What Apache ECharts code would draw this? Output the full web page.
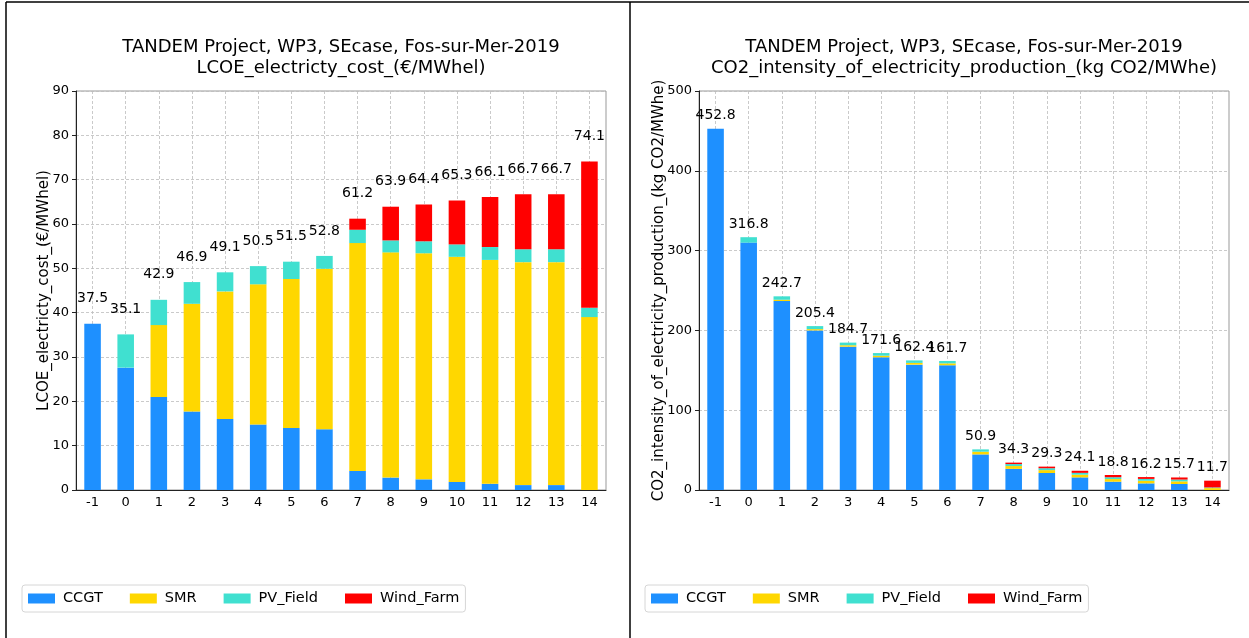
<!DOCTYPE html>
<html>
<head>
<meta charset="utf-8">
<script src="https://cdn.jsdelivr.net/npm/echarts@6/dist/echarts.min.js"></script>
<style>
  html, body { margin: 0; padding: 0; background: #fff; }
  #main { width: 1249px; height: 638px; }
</style>
</head>
<body>
<div id="main"></div>
<script>
const categories = ['-1', '0', '1', '2', '3', '4', '5', '6', '7', '8', '9', '10', '11', '12', '13', '14'];
const seriesNames = ['CCGT', 'SMR', 'PV_Field', 'Wind_Farm'];
const colors = ['#1E90FF', '#FFD700', '#40E0D0', '#FF0000'];

// LCOE (€/MWhel)
const lcoeCCGT = [37.5, 27.6, 21.0, 17.7, 16.0, 14.8, 14.0, 13.7, 4.3, 2.8, 2.4, 1.8, 1.4, 1.1, 1.1, 0];
const lcoeSMR = [0, 0, 16.2, 24.3, 28.8, 31.6, 33.6, 36.2, 51.4, 50.8, 51.0, 50.8, 50.5, 50.3, 50.3, 39.0];
const lcoePV = [0, 7.5, 5.7, 4.9, 4.3, 4.1, 3.9, 2.9, 3.0, 2.7, 2.7, 2.8, 2.9, 2.9, 2.9, 2.1];
const lcoeWind = [0, 0, 0, 0, 0, 0, 0, 0, 2.5, 7.6, 8.3, 9.9, 11.3, 12.4, 12.4, 33.0];
const lcoeTotal = [37.5, 35.1, 42.9, 46.9, 49.1, 50.5, 51.5, 52.8, 61.2, 63.9, 64.4, 65.3, 66.1, 66.7, 66.7, 74.1];

// CO2 intensity (kg CO2/MWhe)
const co2CCGT = [452.8, 310.0, 236.8, 200.0, 179.6, 166.3, 157.1, 156.3, 44.6, 26.5, 21.3, 15.8, 10.4, 8.3, 7.5, 0];
const co2SMR = [0, 0, 1.6, 1.6, 1.8, 2.0, 2.2, 2.4, 3.4, 3.5, 3.6, 3.4, 3.3, 3.3, 3.3, 2.4];
const co2PV = [0, 6.8, 4.3, 3.8, 3.3, 3.3, 3.1, 3.0, 2.9, 2.5, 2.4, 2.3, 2.3, 2.3, 2.3, 0.8];
const co2Wind = [0, 0, 0, 0, 0, 0, 0, 0, 0, 1.8, 2.0, 2.6, 2.8, 2.3, 2.6, 8.5];
const co2Total = [452.8, 316.8, 242.7, 205.4, 184.7, 171.6, 162.4, 161.7, 50.9, 34.3, 29.3, 24.1, 18.8, 16.2, 15.7, 11.7];

const font = 'DejaVu Sans';
const titleLine1 = 'TANDEM Project, WP3, SEcase, Fos-sur-Mer-2019';
const gridLine = { color: '#bdbdbd', type: [3, 2], width: 0.8 };

function stackSeries(idx, values) {
  return values.map((data, i) => ({
    name: seriesNames[i],
    type: 'bar',
    stack: 'mix' + idx,
    xAxisIndex: idx,
    yAxisIndex: idx,
    barWidth: '50%',
    itemStyle: { color: colors[i] },
    data: data
  }));
}

// invisible points carrying the total labels above each stack
function totalSeries(idx, data, dist) {
  return {
    type: 'scatter',
    xAxisIndex: idx,
    yAxisIndex: idx,
    symbolSize: 0,
    silent: true,
    itemStyle: { opacity: 1 },
    data: data,
    label: {
      show: true,
      position: 'top',
      distance: dist,
      fontFamily: font,
      fontSize: 14,
      color: '#000',
      formatter: p => p.value.toFixed(1)
    }
  };
}

function xAxis(idx) {
  return {
    type: 'category',
    gridIndex: idx,
    data: categories,
    axisLine: { lineStyle: { color: '#222' } },
    axisTick: { alignWithLabel: true, length: 4, lineStyle: { color: '#222' } },
    axisLabel: { fontFamily: font, fontSize: 13, color: '#000', margin: 6 },
    splitLine: { show: true, alignWithLabel: true, lineStyle: gridLine }
  };
}

function yAxis(idx, max, interval, name, gap) {
  return {
    type: 'value',
    gridIndex: idx,
    min: 0,
    max: max,
    interval: interval,
    name: name,
    nameLocation: 'middle',
    nameGap: gap,
    nameMoveOverlap: false,
    nameTextStyle: { fontFamily: font, fontSize: 15, color: '#000' },
    axisLine: { show: true, lineStyle: { color: '#222' } },
    axisTick: { show: true, length: 4, lineStyle: { color: '#222' } },
    axisLabel: { fontFamily: font, fontSize: 13, color: '#000', margin: 7 },
    splitLine: { show: true, lineStyle: gridLine }
  };
}

function legend(left) {
  return {
    data: seriesNames,
    left: left,
    top: 585,
    orient: 'horizontal',
    icon: 'rect',
    itemWidth: 27,
    itemHeight: 10,
    itemGap: 27,
    padding: [6, 6],
    borderColor: '#d6d6d6',
    borderWidth: 1,
    borderRadius: 3,
    textStyle: { fontFamily: font, fontSize: 14.5, color: '#000', padding: [0, 0, 0, 3] }
  };
}

function titleText(x, y, text) {
  return {
    type: 'text',
    x: x,
    y: y,
    style: { text: text, fontFamily: font, fontSize: 18, fill: '#000', align: 'center', verticalAlign: 'middle' }
  };
}

const chart = echarts.init(document.getElementById('main'));

chart.setOption({
  backgroundColor: '#fff',
  animation: false,
  grid: [
    { left: 76, top: 91, width: 530, height: 399, show: true, borderColor: '#999', borderWidth: 1 },
    { left: 699, top: 91, width: 530, height: 399, show: true, borderColor: '#999', borderWidth: 1 }
  ],
  xAxis: [xAxis(0), xAxis(1)],
  yAxis: [
    yAxis(0, 90, 10, 'LCOE_electricty_cost_(€/MWhel)', 24),
    yAxis(1, 500, 100, 'CO2_intensity_of_electricity_production_(kg CO2/MWhe)', 32)
  ],
  legend: [legend(22), legend(645)],
  graphic: [
    { type: 'line', shape: { x1: 6, y1: 2, x2: 6, y2: 638 }, style: { stroke: '#000', lineWidth: 1.5 } },
    { type: 'line', shape: { x1: 6, y1: 2, x2: 1249, y2: 2 }, style: { stroke: '#000', lineWidth: 1.5 } },
    { type: 'line', shape: { x1: 630, y1: 2, x2: 630, y2: 638 }, style: { stroke: '#000', lineWidth: 1.5 } },
    titleText(341, 47, titleLine1),
    titleText(341, 68, 'LCOE_electricty_cost_(€/MWhel)'),
    titleText(964, 47, titleLine1),
    titleText(964, 68, 'CO2_intensity_of_electricity_production_(kg CO2/MWhe)')
  ],
  series: [
    ...stackSeries(0, [lcoeCCGT, lcoeSMR, lcoePV, lcoeWind]),
    totalSeries(0, lcoeTotal, 18),
    ...stackSeries(1, [co2CCGT, co2SMR, co2PV, co2Wind]),
    totalSeries(1, co2Total, 6)
  ]
});
</script>
</body>
</html>
